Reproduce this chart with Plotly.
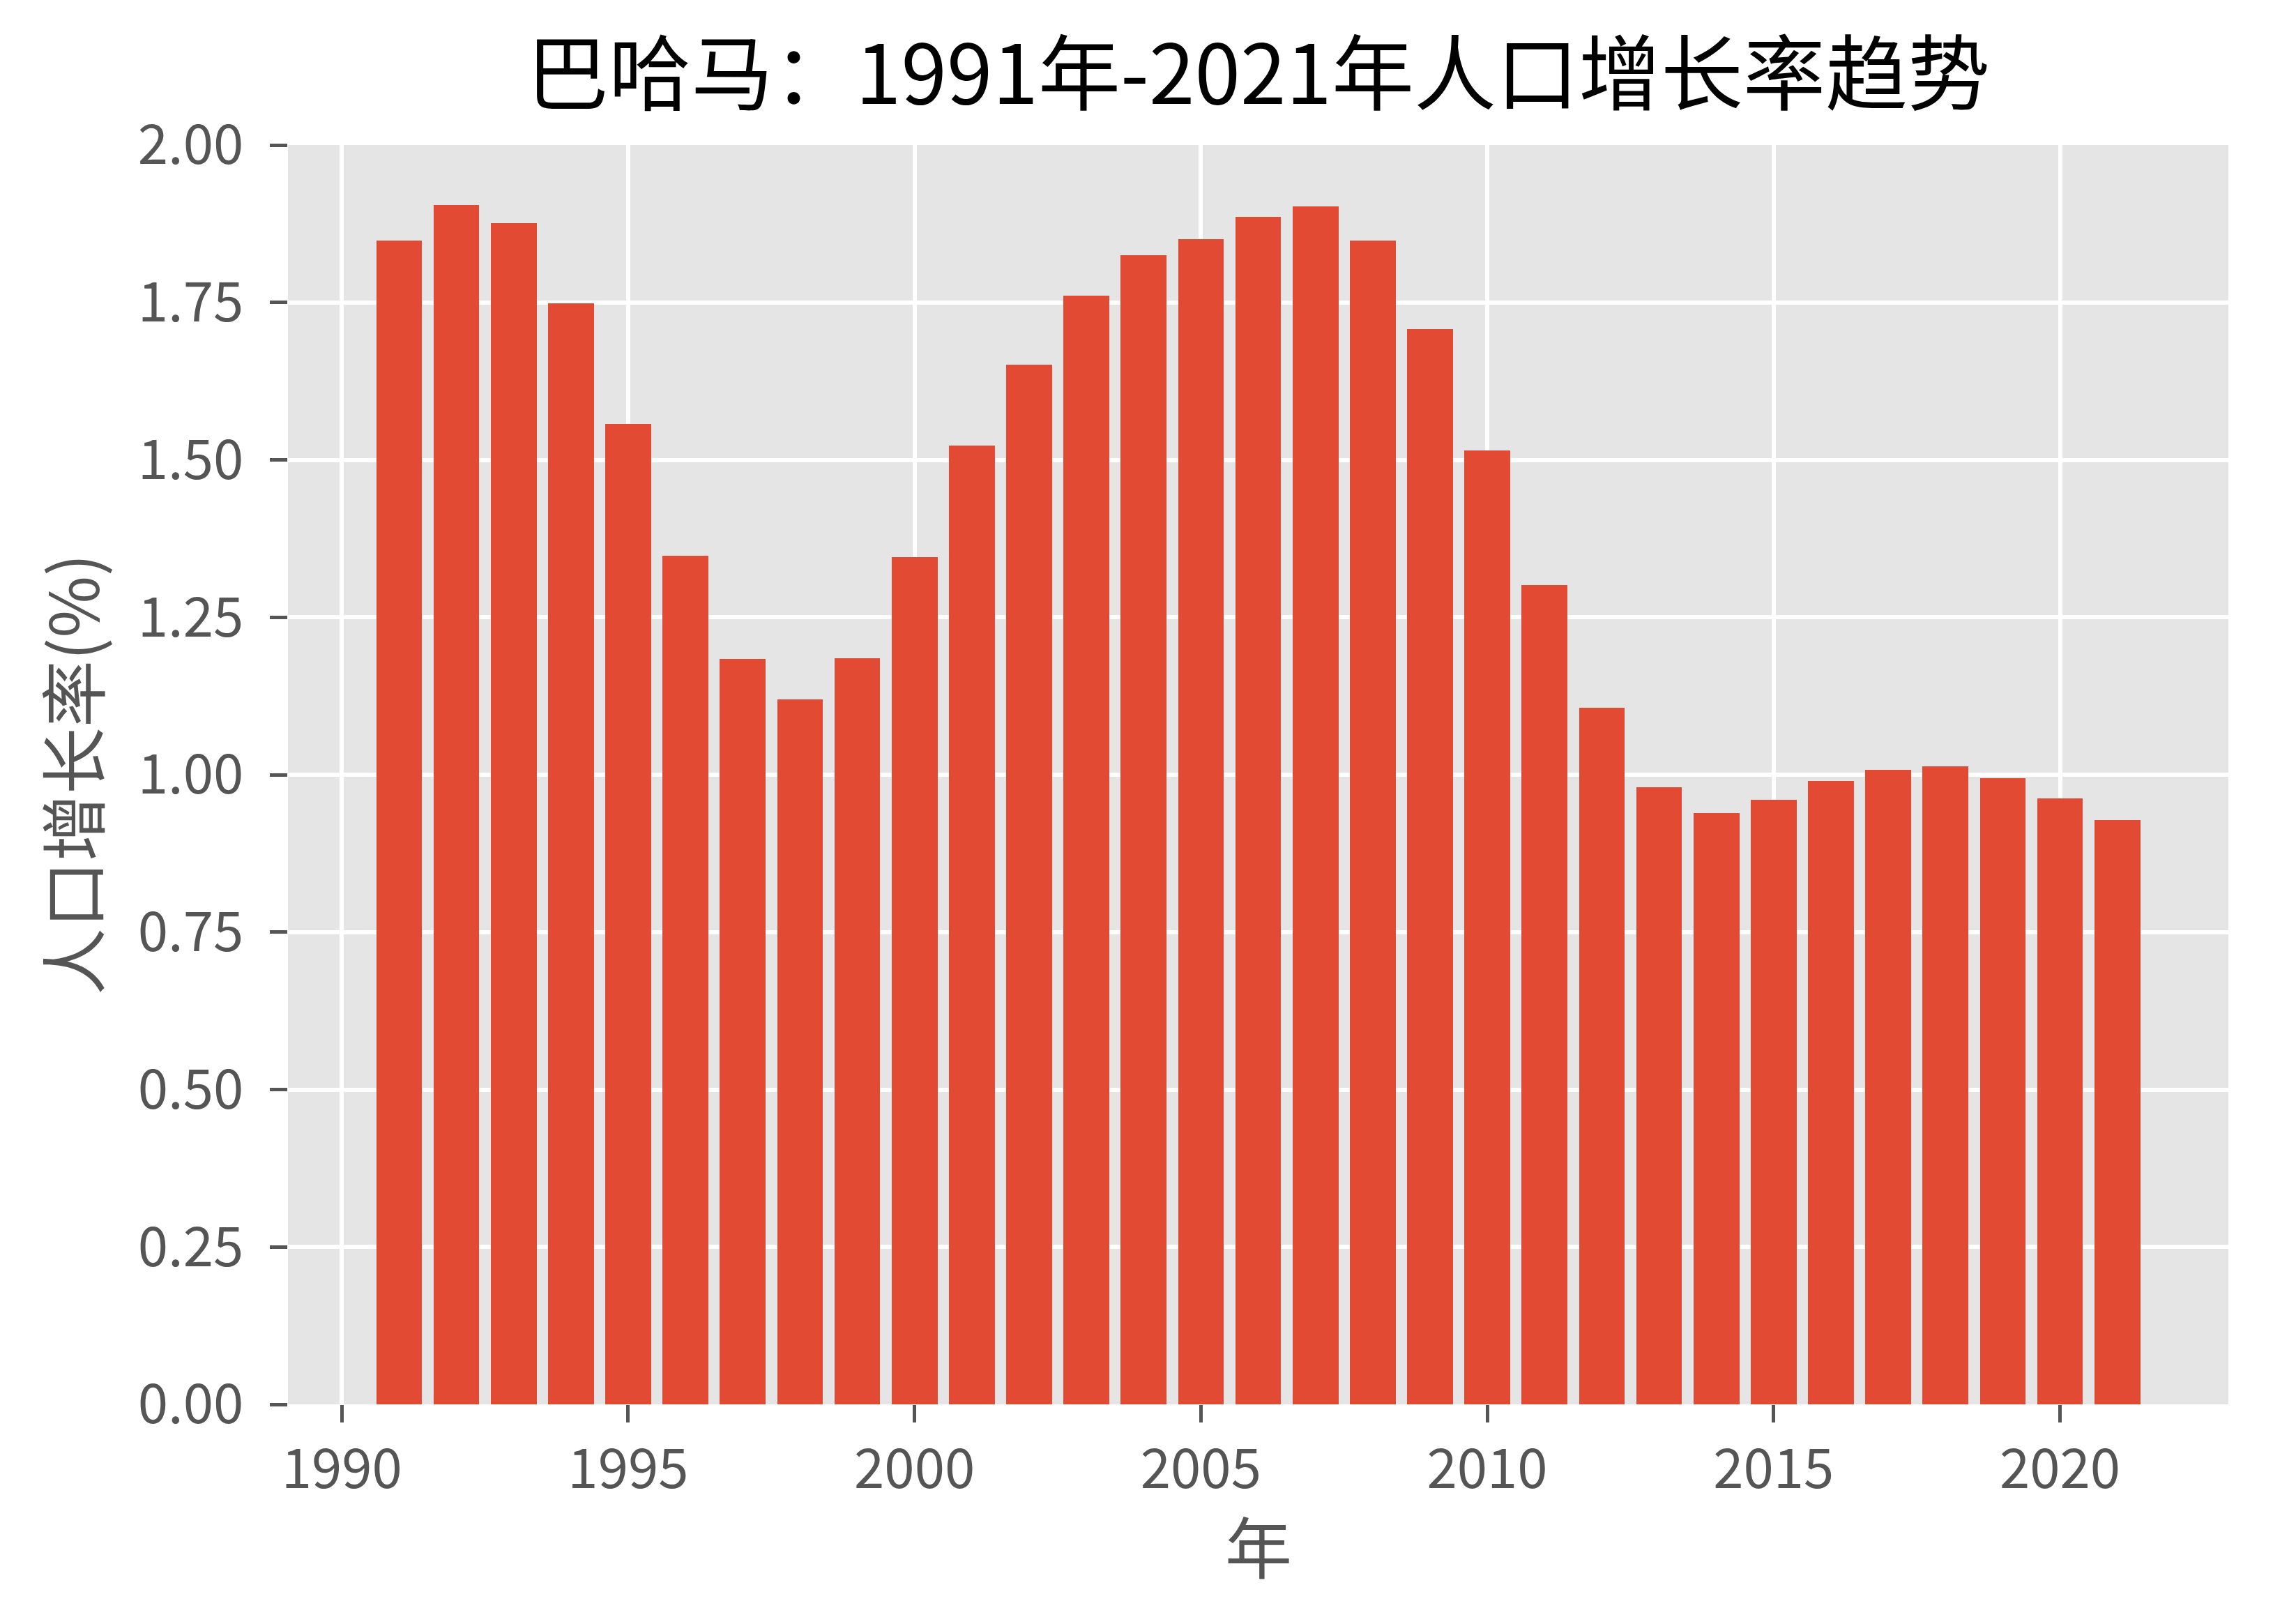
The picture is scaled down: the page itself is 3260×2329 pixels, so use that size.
import plotly.graph_objects as go

years = list(range(1991, 2022))
growth = [1.848, 1.905, 1.876, 1.749, 1.557, 1.348, 1.184, 1.120, 1.185, 1.345,
          1.523, 1.651, 1.761, 1.825, 1.850, 1.886, 1.902, 1.848, 1.708, 1.515,
          1.301, 1.106, 0.980, 0.939, 0.960, 0.990, 1.008, 1.013, 0.995, 0.962,
          0.928]
y_ticks = [0, 0.25, 0.5, 0.75, 1.0, 1.25, 1.5, 1.75, 2.0]
x_ticks = [1990, 1995, 2000, 2005, 2010, 2015, 2020]

title_text = "巴哈马：1991年-2021年人口增长率趋势"
x_label = "年"
y_label = "人口增长率(%)"

FONT = "Noto Sans CJK SC, Noto Sans, sans-serif"
GREY = "#555555"

# page has an 8px body margin; figure is shrunk accordingly
W, H = 3252, 2321
L, T, R, B = 405, 200, 64, 315
PW, PH = W - L - R, H - T - B

fig = go.Figure()
fig.add_trace(go.Bar(
    x=years, y=growth, width=0.8,
    marker=dict(color="#E24A33", line=dict(width=0)),
))

fig.update_layout(
    width=W, height=H,
    margin=dict(l=L, r=R, t=T, b=B, autoexpand=False),
    paper_bgcolor="white",
    plot_bgcolor="#E5E5E5",
    showlegend=False,
    font=dict(family=FONT, color=GREY),
    title=dict(text=title_text, x=0.5, xref="paper", xanchor="center",
               y=1 - 100 / H, yref="container", yanchor="middle",
               font=dict(family=FONT, size=118, color="black")),
    bargap=0,
)

fig.update_xaxes(
    range=[1989.06, 2022.94],
    tickmode="array", tickvals=x_ticks, ticktext=[str(v) for v in x_ticks],
    ticks="outside", ticklen=25, tickwidth=5, tickcolor=GREY,
    tickfont=dict(family=FONT, size=78, color=GREY),
    ticklabelstandoff=0,
    showgrid=True, gridcolor="white", gridwidth=6,
    zeroline=False, showline=False,
)
fig.update_yaxes(
    range=[0, 2.0],
    tickmode="array", tickvals=y_ticks, ticktext=[f"{v:.2f}" for v in y_ticks],
    ticks="outside", ticklen=25, tickwidth=5, tickcolor=GREY,
    tickfont=dict(family=FONT, size=78, color=GREY),
    ticklabelstandoff=22,
    showgrid=True, gridcolor="white", gridwidth=6,
    zeroline=False, showline=False,
)

fig.add_annotation(text=x_label, xref="paper", yref="paper",
                   x=0.5, y=-200 / PH, xanchor="center", yanchor="middle",
                   showarrow=False, font=dict(family=FONT, size=96, color=GREY))
fig.add_annotation(text=y_label, xref="paper", yref="paper",
                   x=-313 / PW, y=0.5, xanchor="center", yanchor="middle",
                   textangle=-90, showarrow=False,
                   font=dict(family=FONT, size=96, color=GREY))

fig.write_html("out.html")
